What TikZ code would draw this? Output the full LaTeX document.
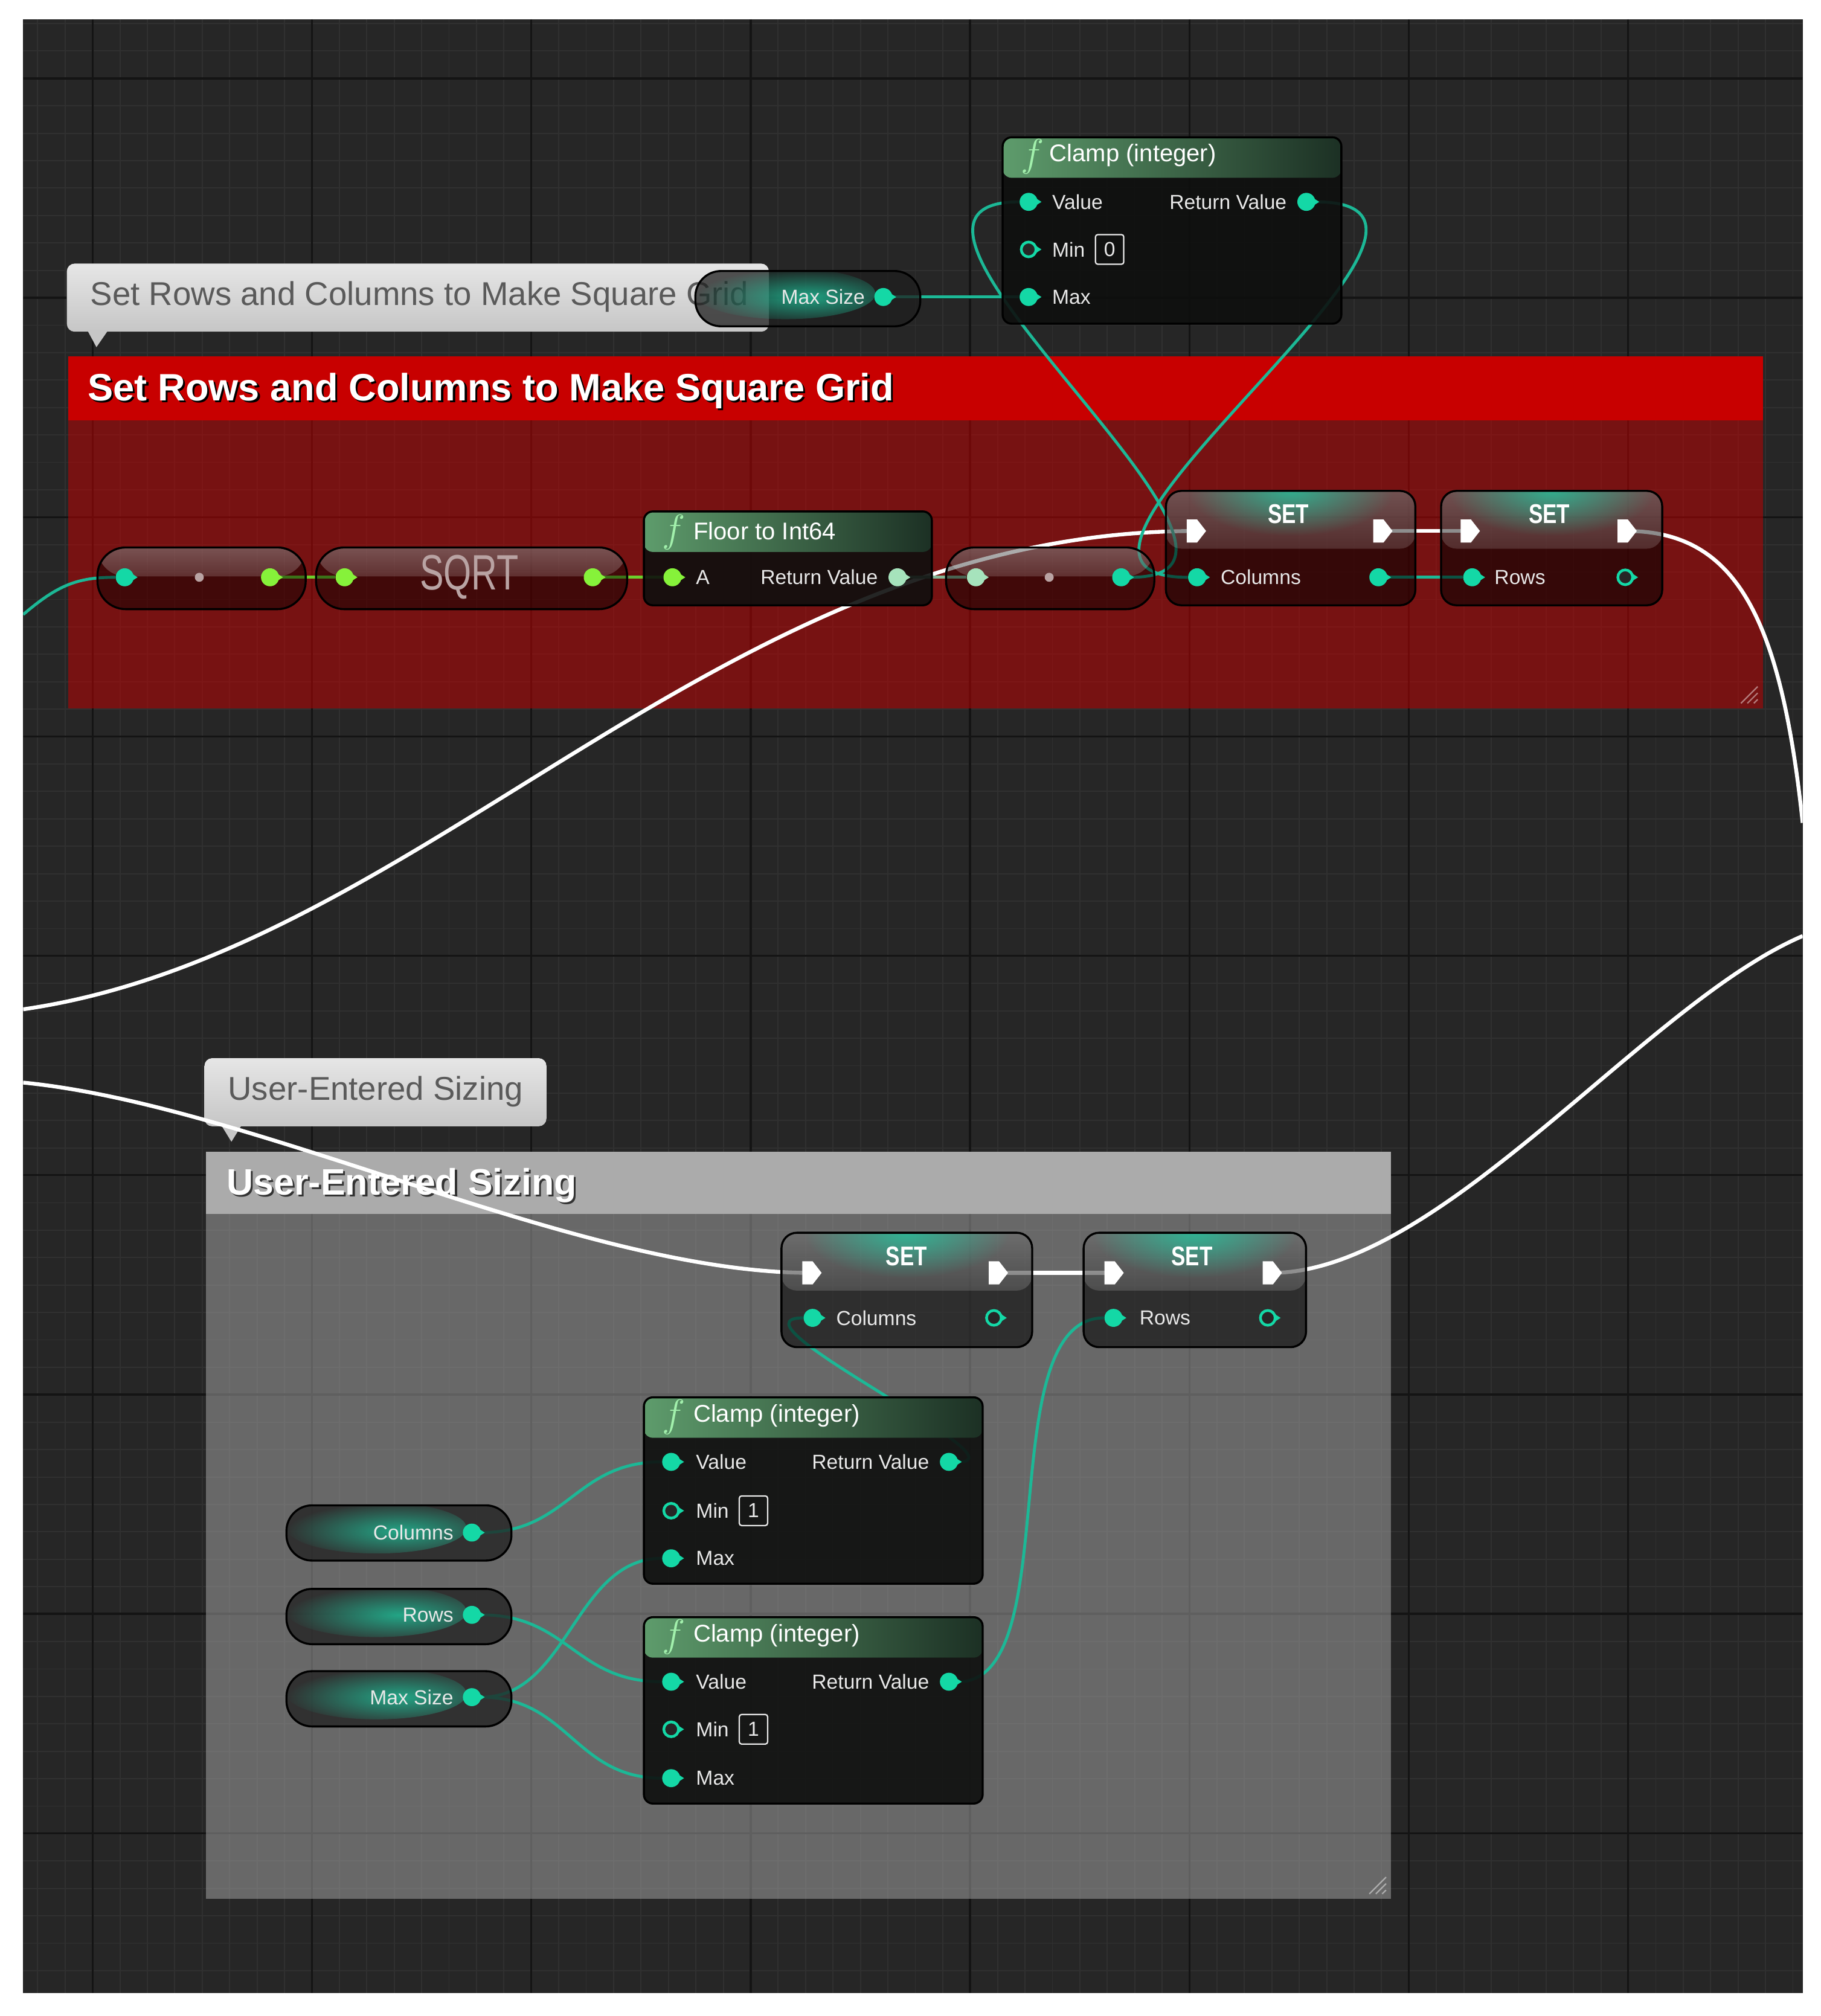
\documentclass[tikz,border=0pt]{standalone}
\usepackage{fontspec}
\setmainfont{Liberation Sans}
\usetikzlibrary{fadings}
\definecolor{canvasbg}{HTML}{262626}
\definecolor{minorgrid}{HTML}{303030}
\definecolor{majorgrid}{HTML}{141414}
\definecolor{pinteal}{HTML}{14D8A6}
\definecolor{wireteal}{HTML}{1CB896}
\definecolor{pingreen}{HTML}{86F23A}
\definecolor{wiregreen}{HTML}{6CD02C}
\definecolor{pinpale}{HTML}{A6E3BC}
\definecolor{hdrleft}{HTML}{5E9C6C}
\definecolor{hdrright}{HTML}{1C3024}
\definecolor{fnbody}{HTML}{0E0F0E}
\definecolor{glowteal}{HTML}{1FC9A0}
\definecolor{commentred}{HTML}{C80000}
\definecolor{commentgray}{HTML}{ABABAB}
\definecolor{bubbletop}{HTML}{E6E6E6}
\definecolor{bubblebot}{HTML}{C6C6C6}
\definecolor{bubbletext}{HTML}{5A5A5A}
\definecolor{labelwhite}{HTML}{E8E8E8}
\definecolor{fgreen}{HTML}{A2F0AC}
\definecolor{sqrtgray}{HTML}{B9A3A3}

\pgfdeclarelayer{canvas}
\pgfdeclarelayer{comment}
\pgfdeclarelayer{wire}
\pgfsetlayers{canvas,comment,wire,main}

\tikzfading[name=glowfade, inner color=transparent!15, outer color=transparent!100]
\tikzfading[name=glossfade, top color=transparent!70, bottom color=transparent!100]

\tikzset{
  minorline/.style={draw=minorgrid, line width=0.5pt},
  majorline/.style={draw=majorgrid, line width=0.9pt},
  fnnode/.style={draw=black, line width=0.9pt, rounded corners=0.14cm, fill=fnbody, fill opacity=0.9,
    anchor=north west, inner sep=0pt, minimum width=5.27cm, minimum height=2.9cm,
    path picture={\fill[left color=hdrleft, right color=hdrright, fill opacity=1]
      (path picture bounding box.north west) rectangle ([yshift=-0.63cm]path picture bounding box.north east);}},
  setnode/.style={draw=black, line width=0.9pt, rounded corners=0.24cm, fill=black, fill opacity=0.55,
    anchor=north west, inner sep=0pt, minimum height=1.78cm,
    path picture={\fill[white, fill opacity=1, path fading=glossfade]
      (path picture bounding box.north west) rectangle ([yshift=-0.9cm]path picture bounding box.north east);
      \fill[glowteal, fill opacity=0.9, path fading=glowfade]
      (path picture bounding box.north) ellipse [x radius=1.6cm, y radius=0.7cm];}},
  pillnode/.style={draw=black, line width=0.9pt, rounded corners=0.44cm, fill=black, fill opacity=0.45,
    anchor=north west, inner sep=0pt, minimum height=0.96cm,
    path picture={\fill[white, fill opacity=1, path fading=glossfade]
      (path picture bounding box.north west) rectangle ([yshift=-0.45cm]path picture bounding box.north east);}},
  getnode/.style={draw=black, line width=0.9pt, rounded corners=0.4cm, fill=black!88, fill opacity=0.75,
    anchor=north west, inner sep=0pt, minimum width=3.5cm, minimum height=0.86cm,
    path picture={\fill[glowteal, fill opacity=0.9, path fading=glowfade]
      ([xshift=-0.35cm, yshift=0.08cm]path picture bounding box.center) ellipse [x radius=1.4cm, y radius=0.4cm];}},
  pinball/.style={circle, inner sep=0pt, minimum size=0.28cm},
  hollowball/.style={circle, inner sep=0pt, minimum size=0.23cm, line width=1.2pt, fill=black!85},
  convdot/.style={circle, inner sep=0pt, minimum size=0.14cm, fill=sqrtgray},
  pinlabel/.style={text=labelwhite, font=\fontsize{9}{10}\selectfont, inner sep=0pt},
  hdrlabel/.style={text=white, font=\fontsize{10.7}{12}\selectfont, inner sep=0pt, anchor=west},
  fglyph/.style={text=fgreen, font=\fontsize{16}{17}\selectfont, inner sep=0pt},
  setlabel/.style={text=white, font=\fontsize{12}{13}\bfseries\selectfont, inner sep=0pt, xscale=0.78},
  minbox/.style={draw=labelwhite, line width=0.6pt, rounded corners=1pt, minimum width=0.44cm,
    minimum height=0.46cm, inner sep=0pt, text=labelwhite, font=\fontsize{9}{10}\selectfont},
  titlelabel/.style={text=white, font=\fontsize{#1}{#1}\bfseries\selectfont, inner sep=0pt, anchor=west},
  titlelabel/.default=16.9,
  bubblelabel/.style={text=bubbletext, font=\fontsize{14.6}{16}\selectfont, inner sep=0pt, anchor=west},
  handle/.style={draw=white, draw opacity=0.45, line width=0.6pt},
  datawire/.style={draw=wireteal, line width=1.3pt},
  greenwire/.style={draw=wiregreen, line width=1.3pt},
  palewire/.style={draw=pinpale!80!black, line width=1.3pt},
  execwire/.style={draw=white, line width=1.7pt}
}

% pins: name, position, colour
\newcommand{\datapin}[3]{%
  \fill[#3] (#2) ++(3,-4.5) -- ++(7,4.5) -- ++(-7,4.5) -- cycle;
  \node[pinball, fill=#3] (#1) at (#2) {};}
\newcommand{\hollowpin}[3]{%
  \fill[#3] (#2) ++(3,-4.5) -- ++(7,4.5) -- ++(-7,4.5) -- cycle;
  \node[hollowball, draw=#3] (#1) at (#2) {};}
\newcommand{\execpin}[2]{%
  \fill[white] (#2) ++(-7,-9) -- ++(8,0) -- ++(7,9) -- ++(-7,9) -- ++(-8,0) -- cycle;
  \coordinate (#1) at (#2);}

\begin{document}
\begin{tikzpicture}[x=0.02cm, y=-0.02cm]
\useasboundingbox (0,0) rectangle (1416,1568);

% canvas and grid
\begin{pgfonlayer}{canvas}
  \fill[white] (0,0) rectangle (1416,1568);
  \fill[canvasbg] (18,15) rectangle (1402,1550);
  \begin{scope}
    \clip (18,15) rectangle (1402,1550);
    \foreach \k in {0,...,65} \draw[minorline] ({29.3+21.33*\k},15) -- ++(0,1535);
    \foreach \k in {0,...,71} \draw[minorline] (18,{18.3+21.33*\k}) -- ++(1384,0);
    \foreach \k in {0,...,7} \draw[majorline] ({72+170.6*\k},15) -- ++(0,1535);
    \foreach \k in {0,...,8} \draw[majorline] (18,{61+170.6*\k}) -- ++(1384,0);
  \end{scope}
\end{pgfonlayer}

% comment boxes
\begin{pgfonlayer}{comment}
  \fill[commentred, fill opacity=0.5] (53,327) rectangle (1371,551);
  \fill[commentred] (53,277) rectangle (1371,327);
  \foreach \d in {0,5,10} \draw[handle] ({1354+\d},547) -- (1367,{534+\d});
  \node[titlelabel, text=black] (redTitleShadow) at (69.5,305.5) {Set Rows and Columns to Make Square Grid};
  \node[titlelabel] (redTitle) at (68,304) {Set Rows and Columns to Make Square Grid};
  \fill[top color=bubbletop, bottom color=bubblebot, rounded corners=0.12cm] (52,205) rectangle (598,258);
  \fill[bubblebot] (68,257) -- (84,257) -- (75,270) -- cycle;
  \node[bubblelabel] (redNote) at (70,231) {Set Rows and Columns to Make Square Grid};

  \fill[commentgray, fill opacity=0.5] (160,944) rectangle (1082,1477);
  \fill[commentgray] (160,896) rectangle (1082,944);
  \foreach \d in {0,5,10} \draw[handle] ({1065+\d},1473) -- (1078,{1460+\d});
  \node[titlelabel=16.3, text=black!80] (grayTitleShadow) at (177.5,923.5) {User-Entered Sizing};
  \node[titlelabel=16.3] (grayTitle) at (176,922) {User-Entered Sizing};
  \fill[top color=bubbletop, bottom color=bubblebot, rounded corners=0.12cm] (159,823) rectangle (425,876);
  \fill[bubblebot] (172,875) -- (188,875) -- (180,888) -- cycle;
  \node[bubblelabel] (grayNote) at (177,849) {User-Entered Sizing};
\end{pgfonlayer}

% top clamp and max size
\node[getnode] (sizeT) at (540,210) {};
\node[pinlabel, anchor=east] (sizeTl) at (673,231) {Max Size};
\datapin{sizeTo}{687,231}{pinteal}

\node[fnnode] (clampT) at (779,106) {};
\node[fglyph] (clampTf) at (803,122) {$f$};
\node[hdrlabel] (clampTh) at (816,121) {Clamp (integer)};
\datapin{clampTv}{800,157}{pinteal}
\node[pinlabel, anchor=west] (clampTvl) at (818,157) {Value};
\node[pinlabel, anchor=east] (clampTrl) at (1001,157) {Return Value};
\datapin{clampTr}{1016,157}{pinteal}
\hollowpin{clampTm}{800,194}{pinteal}
\node[pinlabel, anchor=west] (clampTml) at (818,194) {Min};
\node[minbox] (clampTmb) at (863,194) {0};
\datapin{clampTx}{800,231}{pinteal}
\node[pinlabel, anchor=west] (clampTxl) at (818,231) {Max};

% red group
\node[pillnode, minimum width=3.24cm] (conv1) at (75,425) {};
\datapin{conv1i}{97,449}{pinteal}
\node[convdot] (conv1d) at (155,449) {};
\datapin{conv1o}{210,449}{pingreen}

\node[pillnode, minimum width=4.84cm] (sqrt) at (245,425) {};
\datapin{sqrti}{268,449}{pingreen}
\node[text=sqrtgray, font=\fontsize{22}{24}\selectfont, inner sep=0pt, xscale=0.72] (sqrtl) at (365,449) {SQRT};
\datapin{sqrto}{461,449}{pingreen}

\node[fnnode, minimum width=4.48cm, minimum height=1.46cm] (floor) at (500,397) {};
\node[fglyph] (floorf) at (524,414) {$f$};
\node[hdrlabel] (floorh) at (539,413) {Floor to Int64};
\datapin{floora}{523,449}{pingreen}
\node[pinlabel, anchor=west] (flooral) at (541,449) {A};
\node[pinlabel, anchor=east] (floorrl) at (683,449) {Return Value};
\datapin{floorr}{698,449}{pinpale}

\node[pillnode, minimum width=3.24cm] (conv2) at (735,425) {};
\datapin{conv2i}{759,449}{pinpale}
\node[convdot] (conv2d) at (816,449) {};
\datapin{conv2o}{872,449}{pinteal}

\node[setnode, minimum width=3.88cm] (setC) at (906,381) {};
\node[setlabel] (setCt) at (1002,400) {SET};
\execpin{setCi}{930,413}
\execpin{setCe}{1075,413}
\datapin{setCv}{931,449}{pinteal}
\node[pinlabel, anchor=west] (setCvl) at (949,449) {Columns};
\datapin{setCo}{1072,449}{pinteal}

\node[setnode, minimum width=3.44cm] (setR) at (1120,381) {};
\node[setlabel] (setRt) at (1205,400) {SET};
\execpin{setRi}{1143,413}
\execpin{setRe}{1265,413}
\datapin{setRv}{1145,449}{pinteal}
\node[pinlabel, anchor=west] (setRvl) at (1162,449) {Rows};
\hollowpin{setRo}{1264,449}{pinteal}

% gray group
\node[setnode, minimum width=3.9cm] (usetC) at (607,958) {};
\node[setlabel] (usetCt) at (705,977) {SET};
\execpin{usetCi}{631,990}
\execpin{usetCe}{776,990}
\datapin{usetCv}{632,1025}{pinteal}
\node[pinlabel, anchor=west] (usetCvl) at (650,1025) {Columns};
\hollowpin{usetCo}{773,1025}{pinteal}

\node[setnode, minimum width=3.46cm] (usetR) at (842,958) {};
\node[setlabel] (usetRt) at (927,977) {SET};
\execpin{usetRi}{866,990}
\execpin{usetRe}{989,990}
\datapin{usetRv}{866,1025}{pinteal}
\node[pinlabel, anchor=west] (usetRvl) at (886,1025) {Rows};
\hollowpin{usetRo}{986,1025}{pinteal}

\node[fnnode] (clampA) at (500,1086) {};
\node[fglyph] (clampAf) at (524,1102) {$f$};
\node[hdrlabel] (clampAh) at (539,1101) {Clamp (integer)};
\datapin{clampAv}{522,1137}{pinteal}
\node[pinlabel, anchor=west] (clampAvl) at (541,1137) {Value};
\node[pinlabel, anchor=east] (clampArl) at (723,1137) {Return Value};
\datapin{clampAr}{738,1137}{pinteal}
\hollowpin{clampAm}{522,1175}{pinteal}
\node[pinlabel, anchor=west] (clampAml) at (541,1175) {Min};
\node[minbox] (clampAmb) at (586,1175) {1};
\datapin{clampAx}{522,1212}{pinteal}
\node[pinlabel, anchor=west] (clampAxl) at (541,1212) {Max};

\node[fnnode] (clampB) at (500,1257) {};
\node[fglyph] (clampBf) at (524,1273) {$f$};
\node[hdrlabel] (clampBh) at (539,1272) {Clamp (integer)};
\datapin{clampBv}{522,1308}{pinteal}
\node[pinlabel, anchor=west] (clampBvl) at (541,1308) {Value};
\node[pinlabel, anchor=east] (clampBrl) at (723,1308) {Return Value};
\datapin{clampBr}{738,1308}{pinteal}
\hollowpin{clampBm}{522,1345}{pinteal}
\node[pinlabel, anchor=west] (clampBml) at (541,1345) {Min};
\node[minbox] (clampBmb) at (586,1345) {1};
\datapin{clampBx}{522,1383}{pinteal}
\node[pinlabel, anchor=west] (clampBxl) at (541,1383) {Max};

\node[getnode] (getC) at (222,1170) {};
\node[pinlabel, anchor=east] (getCl) at (353,1192) {Columns};
\datapin{getCo}{367,1192}{pinteal}
\node[getnode] (getR) at (222,1235) {};
\node[pinlabel, anchor=east] (getRl) at (353,1256) {Rows};
\datapin{getRo}{367,1256}{pinteal}
\node[getnode] (getM) at (222,1299) {};
\node[pinlabel, anchor=east] (getMl) at (353,1320) {Max Size};
\datapin{getMo}{367,1320}{pinteal}

% wires
\begin{pgfonlayer}{wire}
  \begin{scope}
    \clip (18,15) rectangle (1402,1550);
    \coordinate (edgeA) at (18,785);
    \coordinate (edgeB) at (1402,640);
    \coordinate (edgeC) at (1402,728);
    \coordinate (edgeD) at (18,842);
    \coordinate (edgeE) at (18,478);
    \draw[execwire] (edgeA) .. controls (330,740) and (560,413) .. (setCi);
    \draw[execwire] (setCe) -- (setRi);
    \draw[execwire] (setRe) .. controls (1350,413) and (1385,480) .. (edgeB);
    \draw[execwire] (edgeD) .. controls (200,860) and (450,990) .. (usetCi);
    \draw[execwire] (usetCe) -- (usetRi);
    \draw[execwire] (usetRe) .. controls (1120,990) and (1280,780) .. (edgeC);

    \draw[datawire] (edgeE) .. controls (45,455) and (60,449) .. (conv1i);
    \draw[greenwire] (conv1o) -- (sqrti);
    \draw[greenwire] (sqrto) -- (floora);
    \draw[palewire] (floorr) -- (conv2i);
    \draw[datawire] (conv2o) .. controls (1030,449) and (640,157) .. (clampTv);
    \draw[datawire] (clampTr) .. controls (1190,157) and (760,449) .. (setCv);
    \draw[datawire] (sizeTo) -- (clampTx);
    \draw[datawire] (setCo) -- (setRv);

    \draw[datawire] (getCo) .. controls +(75,0) and +(-75,0) .. (clampAv);
    \draw[datawire] (getMo) .. controls +(75,0) and +(-75,0) .. (clampAx);
    \draw[datawire] (getRo) .. controls +(75,0) and +(-75,0) .. (clampBv);
    \draw[datawire] (getMo) .. controls +(75,0) and +(-75,0) .. (clampBx);
    \draw[datawire] (clampAr) .. controls (800,1137) and (560,1025) .. (usetCv);
    \draw[datawire] (clampBr) .. controls (830,1308) and (770,1025) .. (usetRv);
  \end{scope}
\end{pgfonlayer}
\end{tikzpicture}
\end{document}
